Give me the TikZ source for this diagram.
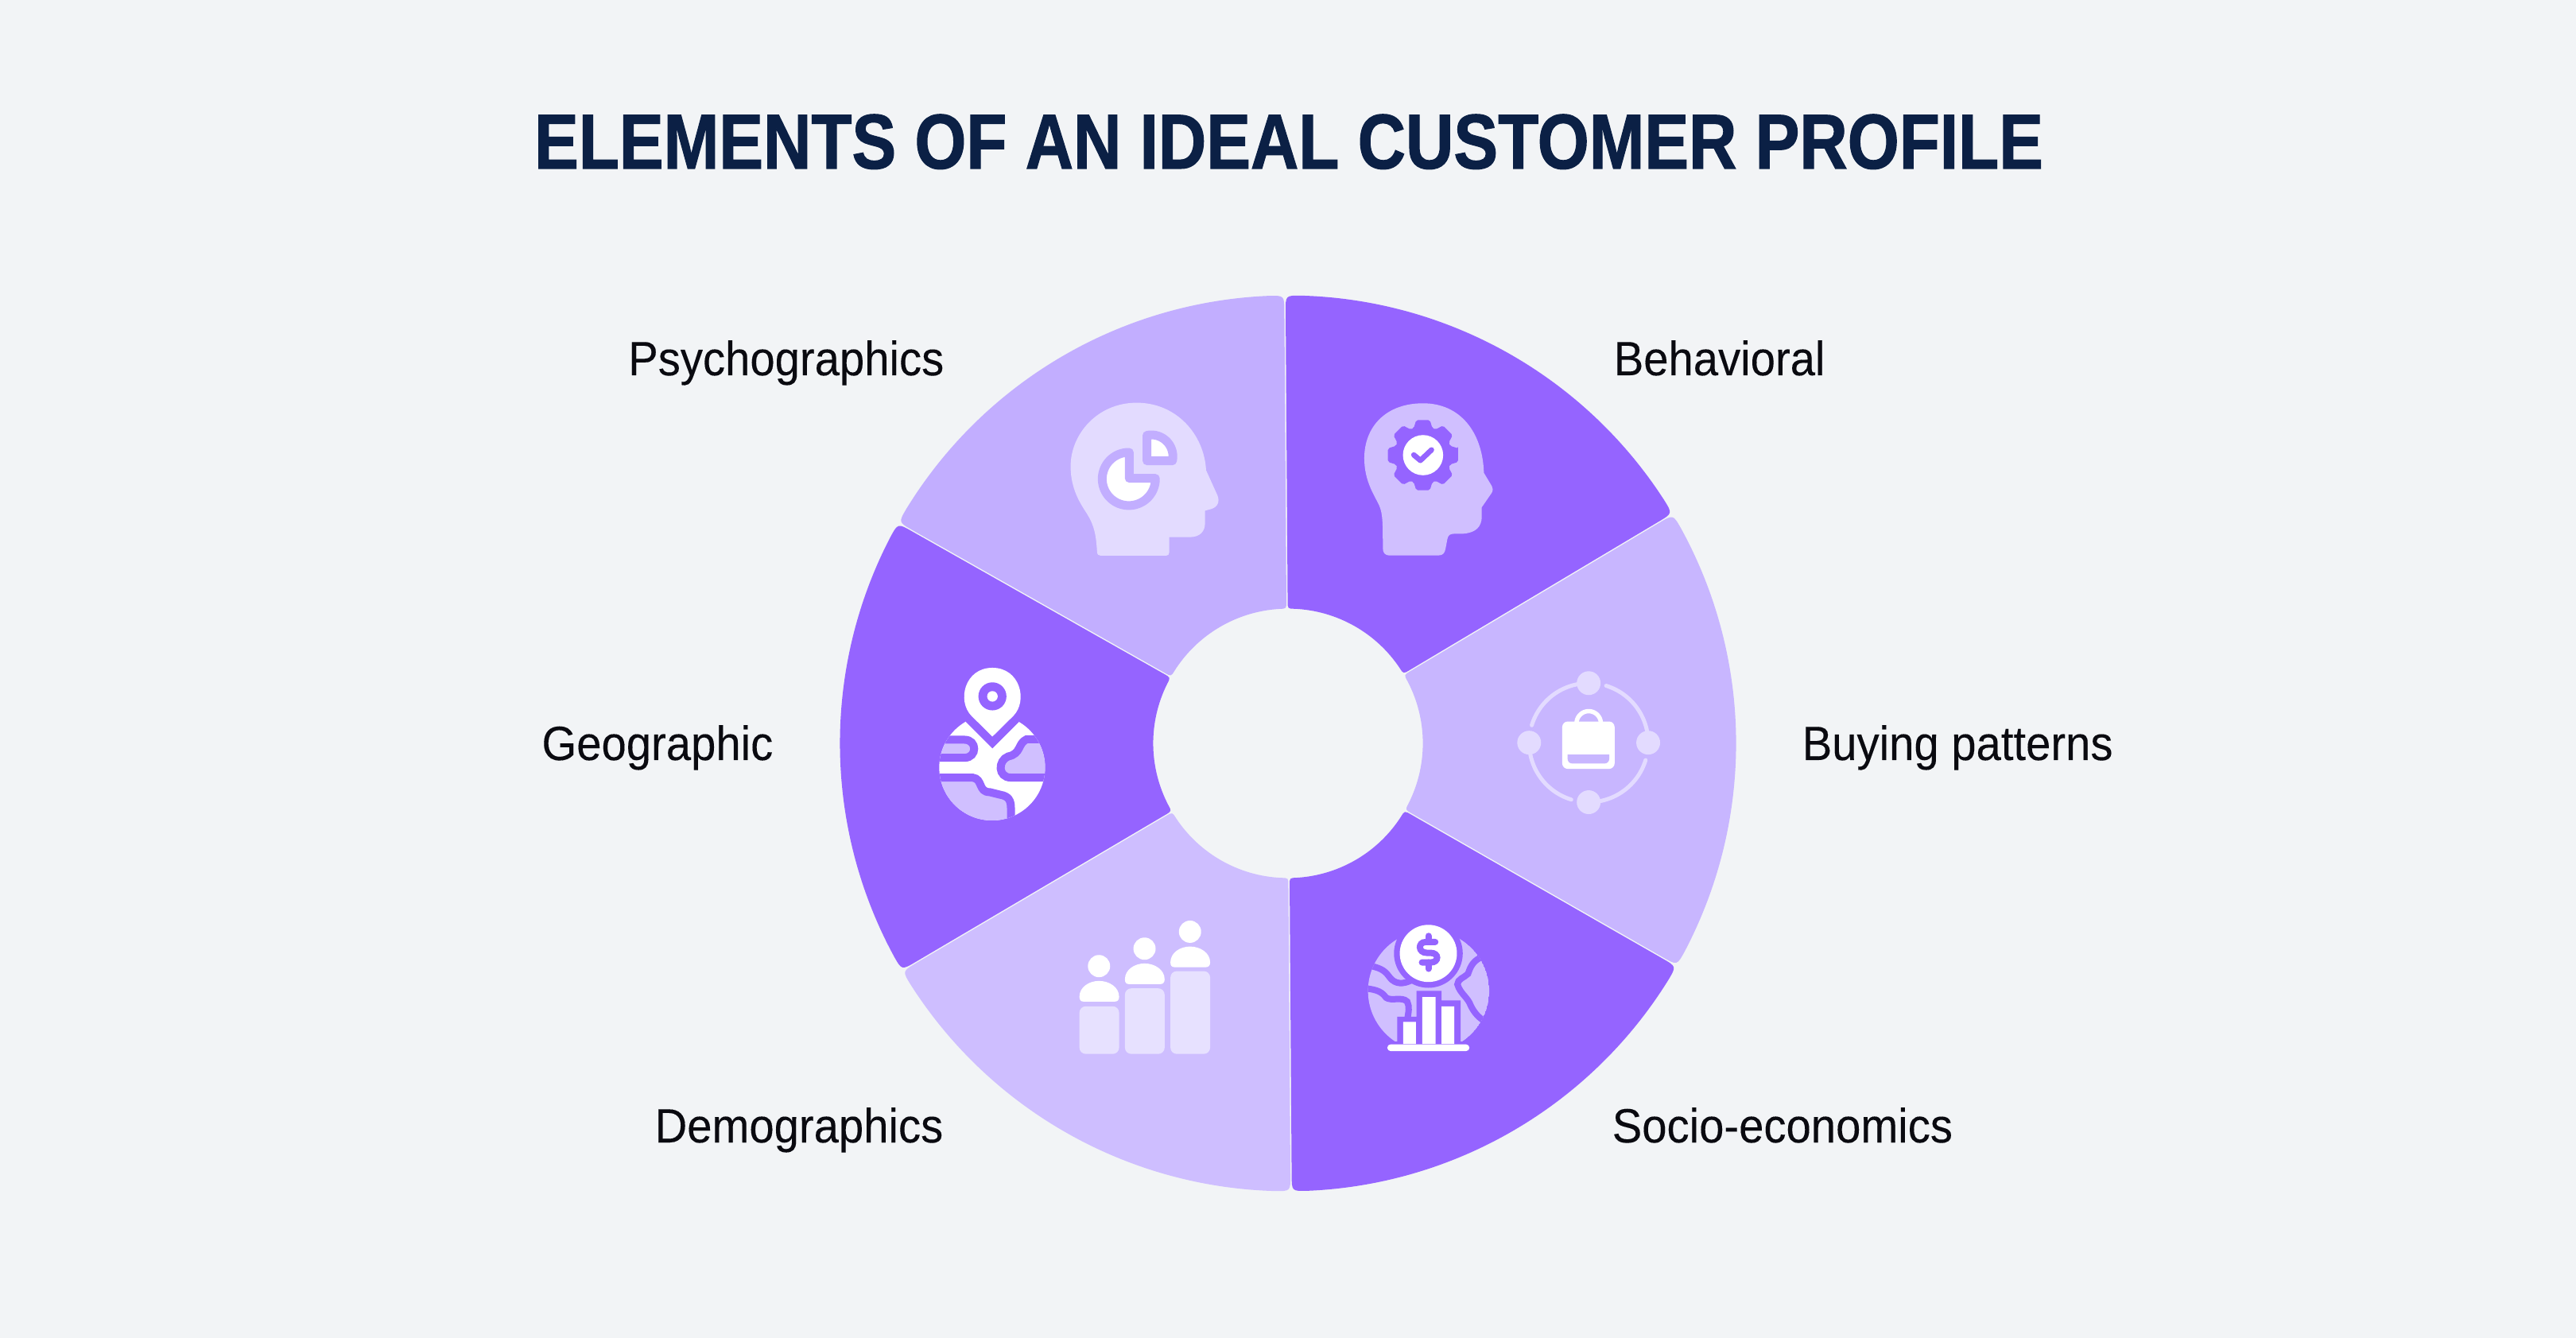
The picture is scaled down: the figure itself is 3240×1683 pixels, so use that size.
\documentclass[tikz,border=0pt]{standalone}
\usepackage{fontspec}
\setmainfont{Liberation Sans}
\newfontfamily\titlefont[FakeStretch=0.855,FakeBold=1.1]{Liberation Sans Bold}
\newfontfamily\labelfont[FakeStretch=0.93,FakeBold=0.15]{Liberation Sans}
\definecolor{pagebg}{HTML}{F2F4F6}
\definecolor{titleink}{HTML}{0B2045}
\definecolor{labelink}{HTML}{0A0A10}
\definecolor{darkseg}{HTML}{9564FF}
\definecolor{psychoseg}{HTML}{C2AEFF}
\definecolor{buyseg}{HTML}{C8B6FF}
\definecolor{demoseg}{HTML}{CEBEFF}
\definecolor{palehead}{HTML}{E3DBFF}
\definecolor{lilac}{HTML}{D0BFFF}
\definecolor{palecol}{HTML}{E7E1FF}
\tikzset{
  titletext/.style={font=\titlefont\fontsize{27.8pt}{32pt}\selectfont,text=titleink,inner sep=0pt,anchor=base},
  labeltext/.style={font=\labelfont\fontsize{17.2pt}{21pt}\selectfont,text=labelink,inner sep=0pt},
  iconscope/.style={shift={#1},x=0.0033333cm,y=-0.0033333cm}
}
\newcommand{\wheelseg}[3]{%
  \begin{scope}[shift={(1620,935)},y=0.01cm]
  \begin{scope}[shift={({(#1+#2)/2}:1.6)}]
  \fill[#3] ({#1+2}:562) arc[start angle={#1+2},end angle={#2-2},radius=562]
    .. controls (#2:562) .. (#2:542) -- (#2:177)
    .. controls (#2:168) .. ({#2-3}:168)
    arc[start angle={#2-3},end angle={#1+3},radius=168]
    .. controls (#1:168) .. (#1:177) -- (#1:542)
    .. controls (#1:562) .. ({#1+2}:562) -- cycle;
  \end{scope}
  \end{scope}}
\begin{document}
\begin{tikzpicture}[x=0.01cm,y=-0.01cm]
\useasboundingbox (0,0) rectangle (3240,1683);
\fill[pagebg] (0,0) rectangle (3240,1683);
\node[titletext] (title) at (1621,212) {ELEMENTS OF AN IDEAL CUSTOMER PROFILE};

\wheelseg{90.4}{150.5}{psychoseg}
\wheelseg{30.8}{90.4}{darkseg}
\wheelseg{-29.8}{30.8}{buyseg}
\wheelseg{-89.6}{-29.8}{darkseg}
\wheelseg{210.5}{270.4}{demoseg}
\wheelseg{150.5}{210.5}{darkseg}

\node[labeltext,anchor=base east] (psy) at (1188,472) {Psychographics};
\node[labeltext,anchor=base west] (beh) at (2029,472) {Behavioral};
\node[labeltext,anchor=base east] (geo) at (973,956) {Geographic};
\node[labeltext,anchor=base west] (buy) at (2266,956) {Buying patterns};
\node[labeltext,anchor=base east] (dem) at (1187,1437) {Demographics};
\node[labeltext,anchor=base west] (soc) at (2027,1437) {Socio-economics};

% Psychographics icon
\begin{scope}[iconscope={(1280,470)}]
\fill[palehead] (300,672) .. controls (300,684) and (306,688) .. (314,688) -- (560,688)
  .. controls (568,688) and (573,684) .. (573,675) -- (573,618) -- (650,618)
  .. controls (690,618) and (708,595) .. (708,565) -- (708,518) -- (730,512)
  .. controls (755,505) and (765,485) .. (755,460) -- (712,365)
  .. controls (705,230) and (600,110) .. (450,110)
  .. controls (300,110) and (200,230) .. (200,350)
  .. controls (200,440) and (240,495) .. (262,530)
  .. controls (290,575) and (296,610) .. (300,672) -- cycle;
\filldraw[fill=white,draw=psychoseg,line width=0.11cm,line join=round]
  (421.5,395.5) -- plot[domain=89:361.4,samples=70] ({420+100.5*cos(\x)},{398-100.5*sin(\x)}) -- cycle;
\filldraw[fill=white,draw=psychoseg,line width=0.11cm,line join=round]
  (488.5,329.5) -- plot[domain=101.7:-11.7,samples=30] ({505+81.5*cos(\x)},{313-81.5*sin(\x)}) -- cycle;
\end{scope}

% Behavioral icon
\begin{scope}[iconscope={(1680,480)}]
\fill[lilac] (178,630) .. controls (178,648) and (188,657) .. (202,657) -- (388,657)
  .. controls (405,657) and (412,648) .. (415,632) -- (422,595)
  .. controls (425,580) and (432,575) .. (450,575) -- (480,575)
  .. controls (530,572) and (552,548) .. (552,510) -- (552,475) -- (590,420)
  .. controls (595,410) and (594,402) .. (590,395) -- (560,345)
  .. controls (555,190) and (470,82) .. (330,82)
  .. controls (190,82) and (108,170) .. (108,290)
  .. controls (108,380) and (150,435) .. (165,470)
  .. controls (178,500) and (178,540) .. (178,630) -- cycle;
\begin{scope}[shift={(330,278)}]
\fill[darkseg,rounded corners=0.02cm] (-11:135)
  \foreach \a in {0,45,...,315} { -- ({\a-11}:135) -- ({\a+11}:135) -- ({\a+19}:108) -- ({\a+26}:108) } -- cycle;
\fill[white] (0,0) circle[radius=76];
\end{scope}
\draw[darkseg,line width=0.067cm,line cap=round,line join=round] (295,277) -- (320,298) -- (362,258);
\end{scope}

% Geographic icon
\begin{scope}[iconscope={(1170,820)}]
\begin{scope}
\clip (234,437) circle[radius=200];
\fill[white] (0,200) rectangle (460,660);
\fill[lilac] (20,400) -- (130,400) .. controls (178,400) and (178,332) .. (130,332) -- (20,332) -- cycle;
\fill[lilac] (305,475) .. controls (255,475) and (255,410) .. (295,395)
  .. controls (345,385) and (330,345) .. (365,330) -- (450,330) -- (450,475) -- cycle;
\fill[lilac] (20,475) -- (160,475) .. controls (200,480) and (180,530) .. (225,530)
  -- (265,540) .. controls (295,545) and (305,560) .. (305,590) -- (305,650) -- (20,650) -- cycle;
\begin{scope}[darkseg,line width=0.1cm]
\draw (20,400) -- (130,400) .. controls (178,400) and (178,332) .. (130,332) -- (20,332);
\draw (450,330) -- (365,330) .. controls (330,345) and (345,385) .. (295,395)
  .. controls (255,410) and (255,475) .. (305,475) -- (450,475);
\draw (20,475) -- (160,475) .. controls (200,480) and (180,530) .. (225,530)
  -- (265,540) .. controls (295,545) and (305,560) .. (305,590) -- (305,650);
\end{scope}
\end{scope}
\fill[darkseg] (135,265) -- (235,365) -- (335,265) -- (335,150) -- (135,150) -- cycle;
\fill[white] (235,320) -- (156,242) .. controls (100,185) and (130,60) .. (235,60)
  .. controls (340,60) and (370,185) .. (314,242) -- cycle;
\fill[darkseg] (235,168) circle[radius=53];
\fill[white] (235,168) circle[radius=20];
\end{scope}

% Buying patterns icon
\begin{scope}[iconscope={(1890,830)}]
\begin{scope}[palehead,line width=0.05cm,line cap=round]
\draw plot[domain=90:163,samples=30] ({325+225*cos(\x)},{313-225*sin(\x)});
\draw plot[domain=73:0,samples=30] ({325+225*cos(\x)},{313-225*sin(\x)});
\draw plot[domain=-17:-90,samples=30] ({325+225*cos(\x)},{313-225*sin(\x)});
\draw plot[domain=253:180,samples=30] ({325+225*cos(\x)},{313-225*sin(\x)});
\end{scope}
\fill[palehead] (325,88) circle[radius=45] (100,313) circle[radius=45]
  (550,313) circle[radius=45] (325,538) circle[radius=45];
\draw[white,line width=0.055cm] plot[domain=0:180,samples=30] ({325+46*cos(\x)},{240-46*sin(\x)});
\fill[white,rounded corners=0.07cm] (225,233) rectangle (423,412);
\fill[buyseg] (245,358) -- (403,358) -- (403,372) .. controls (403,385) and (395,392) .. (383,392)
  -- (265,392) .. controls (253,392) and (245,385) .. (245,372) -- cycle;
\end{scope}

% Socio-economics icon
\begin{scope}[iconscope={(1700,1140)}]
\begin{scope}
\clip (291,320) circle[radius=229];
\fill[lilac] (291,320) circle[radius=229];
\begin{scope}[darkseg,line width=0.08cm,line cap=round]
\draw (70,225) .. controls (120,235) and (130,250) .. (145,270)
  .. controls (165,295) and (195,295) .. (225,280);
\draw (50,310) .. controls (100,315) and (115,325) .. (130,345)
  .. controls (150,360) and (190,340) .. (210,360) .. controls (220,380) and (215,400) .. (210,430);
\draw (495,190) .. controls (460,205) and (450,225) .. (440,255)
  .. controls (425,270) and (400,275) .. (400,295) .. controls (410,330) and (440,345) .. (450,375)
  .. controls (465,405) and (480,420) .. (510,440);
\end{scope}
\end{scope}
\fill[darkseg] (290,178) circle[radius=130];
\fill[white] (290,178) circle[radius=108];
\begin{scope}[darkseg,line width=0.08cm,line cap=round]
\draw (316,135) -- (280,135) .. controls (250,135) and (250,176) .. (285,176) -- (298,176)
  .. controls (332,176) and (330,212) .. (300,212) -- (266,212);
\draw (290,112) -- (290,135);
\draw (290,212) -- (290,236);
\end{scope}
\fill[darkseg] (172,417) rectangle (265,560) (245,320) rectangle (340,560) (318,356) rectangle (412,560);
\fill[darkseg] (125,512) rectangle (455,560);
\fill[white] (195,437) rectangle (243,520) (267,343) rectangle (317,520) (340,378) rectangle (388,520);
\fill[white,rounded corners=0.04cm] (135,522) rectangle (445,547);
\end{scope}

% Demographics icon
\begin{scope}[iconscope={(1340,1140)}]
\fill[palecol,rounded corners=0.08cm] (53,378) rectangle (203,558)
  (225,310) rectangle (375,558) (397,245) rectangle (547,558);
\foreach \dx/\dy in {0/0,172/-66,344/-130}{
  \begin{scope}[shift={(\dx,\dy)}]
  \fill[white] (127,226) circle[radius=42];
  \fill[white] (53,342) .. controls (53,305) and (90,282) .. (127,282)
    .. controls (165,282) and (203,305) .. (203,342)
    .. controls (203,354) and (197,360) .. (187,360) -- (68,360)
    .. controls (58,360) and (53,354) .. (53,342) -- cycle;
  \end{scope}
}
\end{scope}
\end{tikzpicture}
\end{document}
